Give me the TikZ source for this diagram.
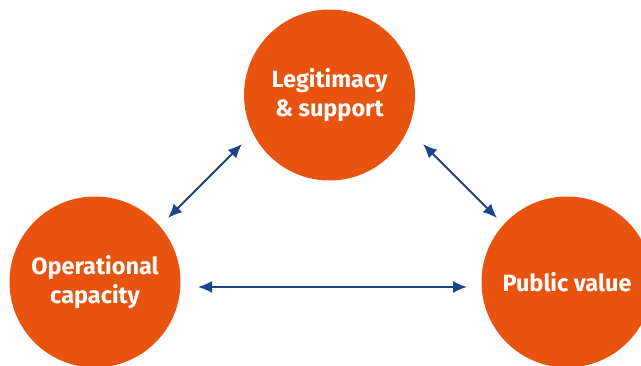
\documentclass[tikz,border=0pt]{standalone}
\usepackage{fontspec}
\setsansfont{Fira Sans}
\usetikzlibrary{arrows.meta}
\definecolor{hub}{RGB}{232,84,16}
\definecolor{link}{RGB}{28,68,140}
\begin{document}
\begin{tikzpicture}[x=1pt,y=-1pt,
  hubnode/.style={circle,fill=hub,draw=none,inner sep=0pt,minimum size=171pt,
    text=white,align=center,font=\sffamily\bfseries\fontsize{23.5}{29}\selectfont},
  twoway/.style={draw=link,line width=1.8pt,{Latex[length=14pt,width=12pt]}-{Latex[length=14pt,width=12pt]}}]
  \useasboundingbox (0,0) rectangle (641,365);
  \clip (0,0) rectangle (641,365);
  % the three circles
  \node[hubnode] (legit) at (329.5,95) {Legitimacy\\\& support};
  \node[hubnode] (oper) at (95,282) {Operational\\capacity};
  \node[hubnode] (pubval) at (567,282) {Public value};
  % arrow end points in the gaps between the circles
  \coordinate (lt) at (242,144);
  \coordinate (ol) at (168,218);
  \coordinate (rt) at (423,144);
  \coordinate (pr) at (497,218);
  \coordinate (oh) at (198,287);
  \coordinate (ph) at (467,287);
  % two-way links
  \draw[twoway] (ol) -- (lt);
  \draw[twoway] (rt) -- (pr);
  \draw[twoway] (oh) -- (ph);
\end{tikzpicture}
\end{document}
